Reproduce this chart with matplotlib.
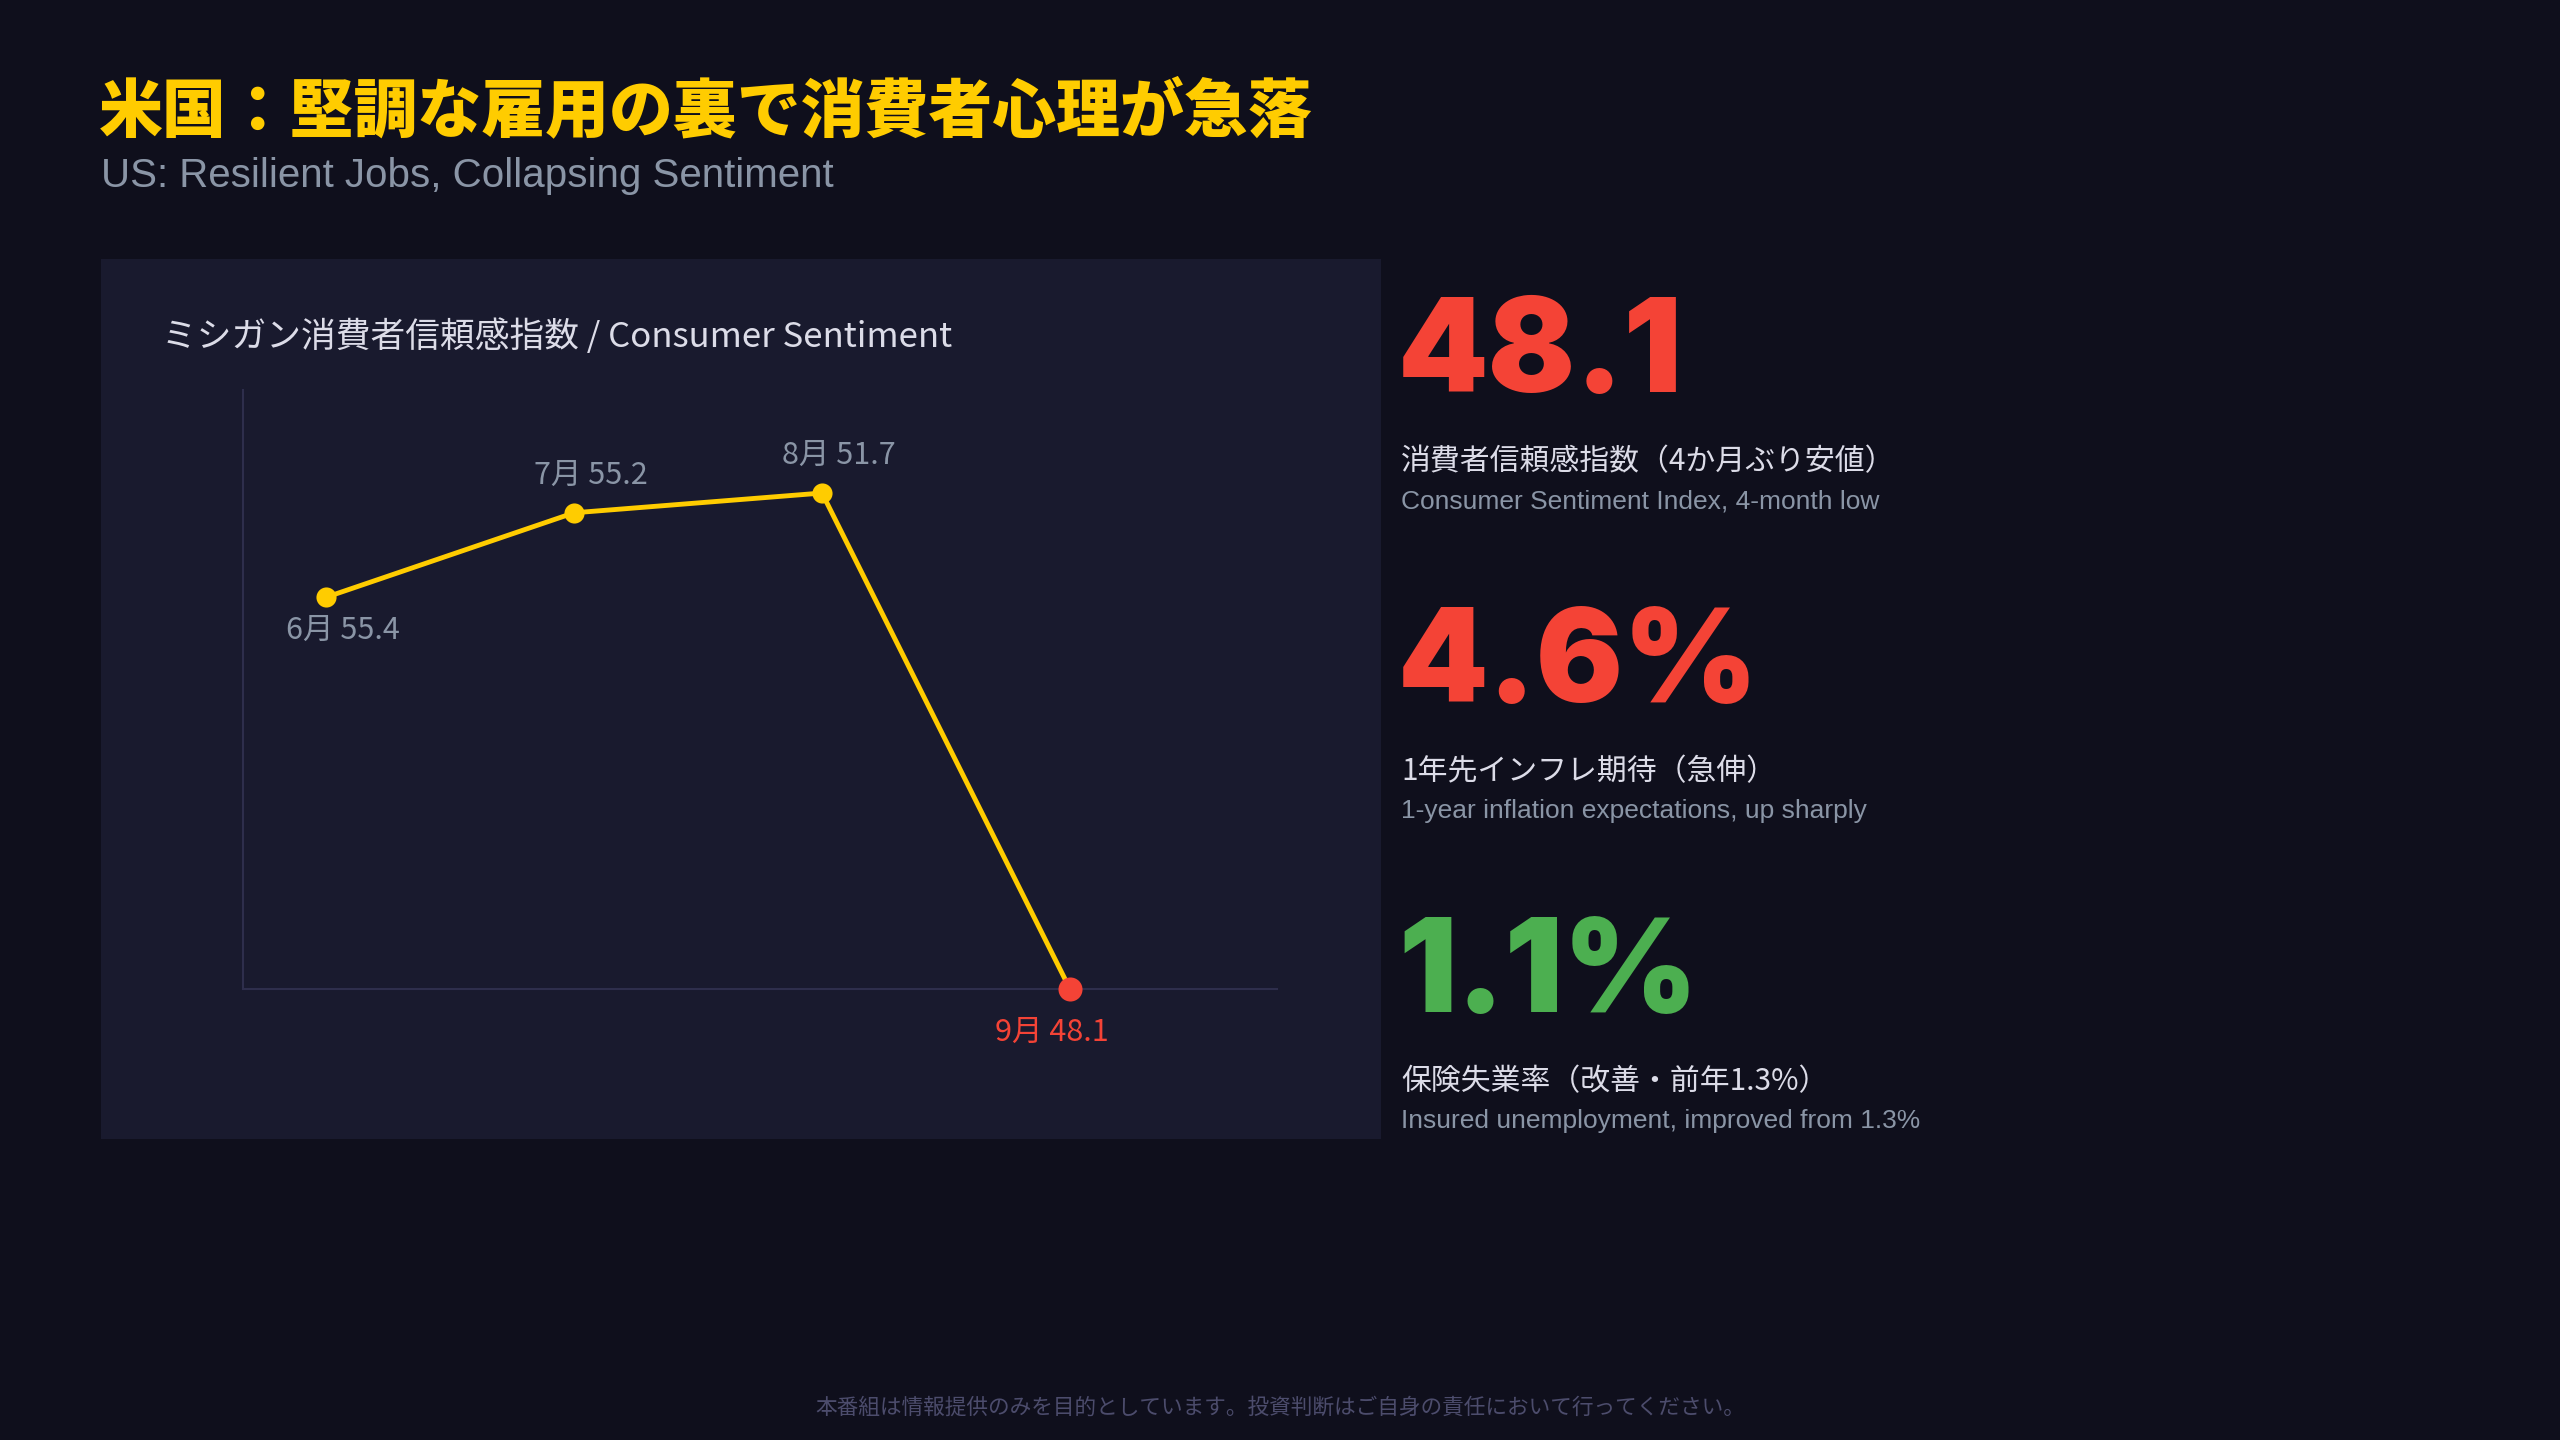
import matplotlib as mpl
import matplotlib.pyplot as plt
import matplotlib.patches as mpatches

# Data
months = ["6月", "7月", "8月", "9月"]
sentiment_vals = [55.4, 55.2, 51.7, 48.1]
# heights of the markers as drawn in the picture (0 = axis floor, 100 = axis top)
sentiment_plot = [65.4, 79.5, 82.8, 0.0]

kpi_values = ["48.1", "4.6%", "1.1%"]
kpi_colors = ["#f44336", "#f44336", "#4caf50"]
kpi_labels_jp = ["消費者信頼感指数（4か月ぶり安値）", "1年先インフレ期待（急伸）", "保険失業率（改善・前年1.3%）"]
kpi_labels_en = ["Consumer Sentiment Index, 4-month low", "1-year inflation expectations, up sharply", "Insured unemployment, improved from 1.3%"]

title_jp = "米国：堅調な雇用の裏で消費者心理が急落"
title_en = "US: Resilient Jobs, Collapsing Sentiment"
panel_title = "ミシガン消費者信頼感指数 / Consumer Sentiment"
footer = "本番組は情報提供のみを目的としています。投資判断はご自身の責任において行ってください。"

W = 2560.0
H = 1440.0

BG = "#0f0f1c"
PANEL = "#191a2e"
YELLOW = "#ffcc00"
RED = "#f44336"
GREY = "#8a95a6"
LIGHT = "#dcdce8"

JP = ["Noto Sans CJK JP", "DejaVu Sans"]
EN = ["Liberation Sans", "Noto Sans CJK JP"]
BIG = ["Inter", "Lato", "DejaVu Sans"]


def fx(x):
	return x / W
#end_def

def fy(y):
	return 1.0 - y / H
#end_def


def main():

	plt.rcParams["font.family"] = JP

	fig = plt.figure(figsize = (25.6, 14.4), dpi = 100, facecolor = BG)

	# headline
	fig.text(fx(99), fy(112), title_jp, fontsize = 46, fontweight = "black", color = YELLOW,
		family = JP, va = "center", ha = "left")
	fig.text(fx(101), fy(176), title_en, fontsize = 29, color = GREY, family = EN, va = "center", ha = "left")

	# chart panel (behind the axes)
	panel = mpatches.Rectangle((fx(101), fy(1139)), fx(1381) - fx(101), fy(259) - fy(1139),
		transform = fig.transFigure, facecolor = PANEL, edgecolor = "none", zorder = -5)
	fig.patches.append(panel)

	fig.text(fx(162), fy(337), panel_title, fontsize = 25, color = LIGHT, family = JP, va = "center", ha = "left")

	ax = fig.add_axes([fx(243), fy(989), fx(1277) - fx(243), fy(390) - fy(989)])
	ax.set_facecolor("none")
	ax.set_zorder(2)

	xs = list(range(len(months)))
	ax.plot(xs, sentiment_plot, color = YELLOW, lw = 3.5, solid_joinstyle = "round", zorder = 2)
	ax.scatter(xs[:-1], sentiment_plot[:-1], s = 210, color = YELLOW, zorder = 3, linewidths = 0)
	ax.scatter(xs[-1:], sentiment_plot[-1:], s = 300, color = RED, zorder = 3, linewidths = 0, clip_on = False)

	for i in range(len(months)):
		label = "%s %.1f" % (months[i], sentiment_vals[i])
		if (i == len(months) - 1):
			ax.annotate(label, (xs[i], sentiment_plot[i]), xytext = (-13, -31), textcoords = "offset points",
				ha = "center", va = "center", fontsize = 22, color = RED, annotation_clip = False)
		elif (i == 0):
			ax.annotate(label, (xs[i], sentiment_plot[i]), xytext = (12, -24), textcoords = "offset points",
				ha = "center", va = "center", fontsize = 22, color = GREY)
		else:
			ax.annotate(label, (xs[i], sentiment_plot[i]), xytext = (12, 27), textcoords = "offset points",
				ha = "center", va = "center", fontsize = 22, color = GREY)
		#end_if
	#end_for

	ax.set_xlim(-0.335, 3.835)
	ax.set_ylim(0, 100)
	ax.set_xticks([])
	ax.set_yticks([])
	for s in ["top", "right"]:
		ax.spines[s].set_visible(False)
	#end_for
	for s in ["left", "bottom"]:
		ax.spines[s].set_color("#2e2e4c")
		ax.spines[s].set_linewidth(1.5)
	#end_for

	# KPI column
	big_y = [358, 668, 978]
	for i in range(len(kpi_values)):
		fig.text(fx(1398), fy(big_y[i]), kpi_values[i], fontsize = 93, fontweight = "black",
			color = kpi_colors[i], family = BIG, va = "center", ha = "left")
		fig.text(fx(1401), fy(big_y[i] + 104), kpi_labels_jp[i], fontsize = 21.5, color = LIGHT,
			family = JP, va = "center", ha = "left")
		fig.text(fx(1401), fy(big_y[i] + 143), kpi_labels_en[i], fontsize = 19, color = GREY,
			family = EN, va = "center", ha = "left")
	#end_for

	fig.text(0.5, fy(1408), footer, fontsize = 15.6, color = "#4c4c6c", family = JP, va = "center", ha = "center")

	fig.savefig("out.png", dpi = 100, facecolor = BG)

#end_def


main()
